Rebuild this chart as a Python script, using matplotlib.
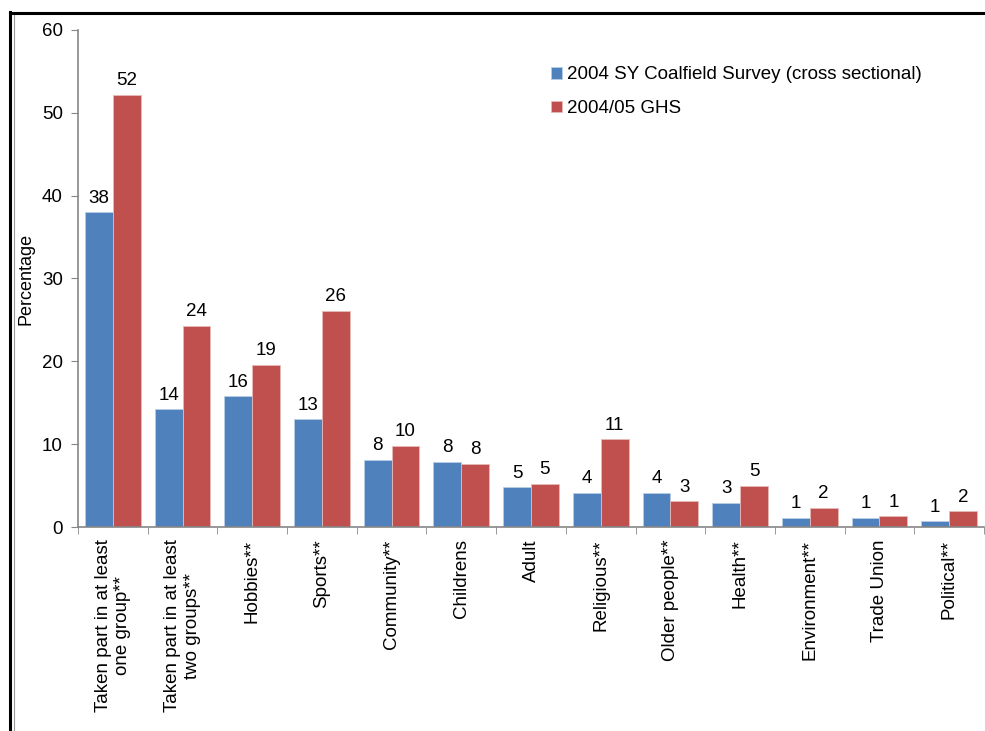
import matplotlib
matplotlib.use('Agg')
import matplotlib.pyplot as plt
from matplotlib.lines import Line2D
import numpy as np

# -------- data --------
categories = ['Taken part in at least\none group**', 'Taken part in at least\ntwo groups**',
              'Hobbies**', 'Sports**', 'Community**', 'Childrens', 'Adult',
              'Religious**', 'Older people**', 'Health**', 'Environment**',
              'Trade Union', 'Political**']
sy_vals  = [38.0, 14.2, 15.8, 13.0, 8.1, 7.85, 4.8, 4.1, 4.1, 2.9, 1.1, 1.1, 0.7]
ghs_vals = [52.2, 24.3, 19.6, 26.1, 9.8, 7.6, 5.2, 10.6, 3.1, 4.95, 2.3, 1.3, 1.9]
sy_labels  = ['38', '14', '16', '13', '8', '8', '5', '4', '4', '3', '1', '1', '1']
ghs_labels = ['52', '24', '19', '26', '10', '8', '5', '11', '3', '5', '2', '1', '2']
series_names = ['2004 SY Coalfield Survey (cross sectional)', '2004/05 GHS']

# -------- style --------
plt.rcParams['font.family'] = ['Liberation Sans', 'DejaVu Sans']
BLUE = '#4F81BD'
RED = '#C0504D'
GREY = '#868686'
FS = 13.5

fig = plt.figure(figsize=(9.85, 7.31), dpi=100)
ax = fig.add_axes([78/985, 1 - 527/731, 906/985, 497/731])

x = np.arange(len(categories))
w = 0.4
b1 = ax.bar(x - w/2, sy_vals, w, color=BLUE, edgecolor='#b9cde5', linewidth=0.6,
            label=series_names[0])
b2 = ax.bar(x + w/2, ghs_vals, w, color=RED, edgecolor='#e6b9b8', linewidth=0.6,
            label=series_names[1])

for bars, labs in ((b1, sy_labels), (b2, ghs_labels)):
    for r, t in zip(bars, labs):
        ax.annotate(t, (r.get_x() + r.get_width()/2, r.get_height()),
                    xytext=(0, 4), textcoords='offset points',
                    ha='center', va='bottom', fontsize=FS)

ax.set_xlim(-0.5, len(categories) - 0.5)
ax.set_ylim(0, 60)
ax.set_yticks(range(0, 61, 10))
ax.tick_params(axis='y', direction='out', length=5, color=GREY, labelsize=FS, pad=6)

# category labels in the middle, tick marks between categories
ax.set_xticks(x)
ax.set_xticklabels(categories, rotation=90, ha='center', va='top',
                   multialignment='center', fontsize=FS)
ax.tick_params(axis='x', length=0, pad=9)
ax.set_xticks(np.arange(-0.5, len(categories)), minor=True)
ax.tick_params(axis='x', which='minor', direction='out', length=5, color=GREY)

for s in ('top', 'right'):
    ax.spines[s].set_visible(False)
for s in ('left', 'bottom'):
    ax.spines[s].set_color(GREY)
    ax.spines[s].set_linewidth(1.2)

ax.set_ylabel('Percentage', fontsize=13)
ax.yaxis.set_label_coords(-0.048, 0.5)

ax.legend(loc='upper left', bbox_to_anchor=(0.503, 0.961), frameon=False,
          fontsize=FS, handlelength=0.6, handleheight=0.6, handletextpad=0.3,
          labelspacing=0.9)

# outer frame (top and left edge of the picture)
fig.add_artist(Line2D([10/985, 1], [1 - 13/731, 1 - 13/731], color='black', lw=2.2))
fig.add_artist(Line2D([10/985, 10/985], [0, 1 - 12/731], color='black', lw=2.2))
fig.add_artist(Line2D([13.5/985, 13.5/985], [0, 1 - 15/731], color='#999999', lw=0.8))

fig.savefig('out.png', dpi=100)
